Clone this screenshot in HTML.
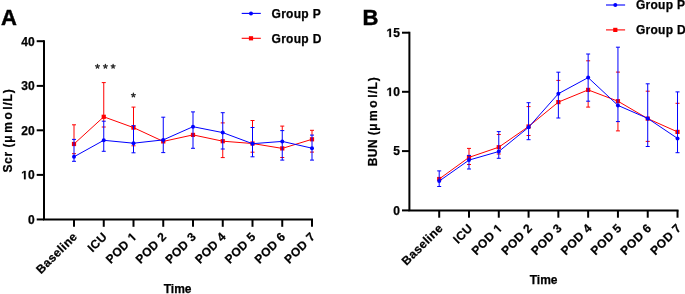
<!DOCTYPE html>
<html><head><meta charset="utf-8"><title>Chart</title>
<style>
html,body{margin:0;padding:0;background:#fff;width:685px;height:294px;overflow:hidden}
svg{display:block;will-change:transform}
</style></head>
<body>
<svg width="685" height="294" viewBox="0 0 685 294">
<style>
.t{font-family:"Liberation Sans", sans-serif;font-weight:bold;font-size:12px;fill:#000;stroke:#000;stroke-width:0.25px}
.L{font-family:"Liberation Sans", sans-serif;font-weight:bold;font-size:22px;fill:#000;stroke:#000;stroke-width:0.45px}
.sp{letter-spacing:2.6px}
.ls{letter-spacing:0.4px}
.ls2{letter-spacing:0.3px}
.ls8{letter-spacing:0.8px}
.ls6{letter-spacing:0.6px}
.ls5{letter-spacing:0.5px}
.h{fill:none;stroke:none}
</style>
<rect width="685" height="294" fill="#fff"/>
<path d="M44 41.2V219.45H312" fill="none" stroke="#000" stroke-width="2" stroke-linecap="square" stroke-linejoin="miter"/>
<line x1="36.7" y1="41.2" x2="44" y2="41.2" stroke="#000" stroke-width="2"/>
<text id="x0" x="34.6" y="45.5" text-anchor="end" class="t">40</text>
<line x1="36.7" y1="85.9" x2="44" y2="85.9" stroke="#000" stroke-width="2"/>
<text id="x1" x="34.6" y="90.2" text-anchor="end" class="t">30</text>
<line x1="36.7" y1="130.3" x2="44" y2="130.3" stroke="#000" stroke-width="2"/>
<text id="x2" x="34.6" y="134.6" text-anchor="end" class="t">20</text>
<line x1="36.7" y1="174.9" x2="44" y2="174.9" stroke="#000" stroke-width="2"/>
<text id="x3" x="34.6" y="179.2" text-anchor="end" class="t"><tspan class="h">1</tspan>0</text>
<path transform="translate(21.22 179.2) scale(0.005859 -0.005859)" d="M478 0L478 1170L140 959L140 1180L493 1409L759 1409L759 0Z" fill="#000" stroke="#000" stroke-width="42.67"/>
<line x1="36.7" y1="219.45" x2="44" y2="219.45" stroke="#000" stroke-width="2"/>
<text id="x4" x="34.6" y="223.75" text-anchor="end" class="t">0</text>
<line x1="74" y1="219.45" x2="74" y2="226.8" stroke="#000" stroke-width="2"/>
<line x1="103.75" y1="219.45" x2="103.75" y2="226.8" stroke="#000" stroke-width="2"/>
<line x1="133.5" y1="219.45" x2="133.5" y2="226.8" stroke="#000" stroke-width="2"/>
<line x1="163.25" y1="219.45" x2="163.25" y2="226.8" stroke="#000" stroke-width="2"/>
<line x1="193" y1="219.45" x2="193" y2="226.8" stroke="#000" stroke-width="2"/>
<line x1="222.75" y1="219.45" x2="222.75" y2="226.8" stroke="#000" stroke-width="2"/>
<line x1="252.5" y1="219.45" x2="252.5" y2="226.8" stroke="#000" stroke-width="2"/>
<line x1="282.25" y1="219.45" x2="282.25" y2="226.8" stroke="#000" stroke-width="2"/>
<line x1="312" y1="219.45" x2="312" y2="226.8" stroke="#000" stroke-width="2"/>
<text id="x5" transform="translate(78.1 237.35) rotate(-45)" text-anchor="end" class="t ls">Baseline</text>
<text id="x6" transform="translate(107.85 237.35) rotate(-45)" text-anchor="end" class="t ls">ICU</text>
<text id="x7" transform="translate(137.6 237.35) rotate(-45)" text-anchor="end" class="t ls">POD <tspan class="h">1</tspan></text>
<path transform="translate(137.6 237.35) rotate(-45) translate(-7.08 0) scale(0.005859 -0.005859)" d="M478 0L478 1170L140 959L140 1180L493 1409L759 1409L759 0Z" fill="#000" stroke="#000" stroke-width="42.67"/>
<text id="x8" transform="translate(167.35 237.35) rotate(-45)" text-anchor="end" class="t ls">POD 2</text>
<text id="x9" transform="translate(197.1 237.35) rotate(-45)" text-anchor="end" class="t ls">POD 3</text>
<text id="x10" transform="translate(226.85 237.35) rotate(-45)" text-anchor="end" class="t ls">POD 4</text>
<text id="x11" transform="translate(256.6 237.35) rotate(-45)" text-anchor="end" class="t ls">POD 5</text>
<text id="x12" transform="translate(286.35 237.35) rotate(-45)" text-anchor="end" class="t ls">POD 6</text>
<text id="x13" transform="translate(316.1 237.35) rotate(-45)" text-anchor="end" class="t ls">POD 7</text>
<text id="x14" x="177.6" y="292.8" text-anchor="middle" class="t">Time</text>
<text x="1" y="24.7" class="L">A</text>
<text id="x15" transform="translate(11.8 172.5) rotate(-90)" x="0" y="0" class="t ls"><tspan class="ls6">Scr (</tspan><tspan class="sp">μmo</tspan><tspan class="ls8">l/L)</tspan></text>
<path d="M74 124.8V139.4M72 124.8h4M72 153.7h4" stroke="#ff0000" stroke-width="1" fill="none"/>
<path d="M103.75 82.6V121.2M101.75 82.6h4M101.75 127h4" stroke="#ff0000" stroke-width="1" fill="none"/>
<path d="M133.5 107.1V125.7M131.5 107.1h4M131.5 145.8h4" stroke="#ff0000" stroke-width="1" fill="none"/>
<path d="" stroke="#ff0000" stroke-width="1" fill="none"/>
<path d="" stroke="#ff0000" stroke-width="1" fill="none"/>
<path d="M222.75 149V157.6M220.75 122.9h4M220.75 157.6h4" stroke="#ff0000" stroke-width="1" fill="none"/>
<path d="M252.5 120.5V127.5M250.5 120.5h4M250.5 152.2h4" stroke="#ff0000" stroke-width="1" fill="none"/>
<path d="M282.25 126.1V130.6M280.25 126.1h4M280.25 157.5h4" stroke="#ff0000" stroke-width="1" fill="none"/>
<path d="M312 130.3V135.1M310 130.3h4M310 152.1h4" stroke="#ff0000" stroke-width="1" fill="none"/>
<polyline points="74,144 103.75,116.8 133.5,127.6 163.25,141.4 193,134.9 222.75,141.2 252.5,143.5 282.25,148.4 312,139.3" fill="none" stroke="#ff0000" stroke-width="1" stroke-linejoin="round"/>
<rect x="71.9" y="141.9" width="4.2" height="4.2" fill="#ff0000"/>
<rect x="101.65" y="114.7" width="4.2" height="4.2" fill="#ff0000"/>
<rect x="131.4" y="125.5" width="4.2" height="4.2" fill="#ff0000"/>
<rect x="161.15" y="139.3" width="4.2" height="4.2" fill="#ff0000"/>
<rect x="190.9" y="132.8" width="4.2" height="4.2" fill="#ff0000"/>
<rect x="220.65" y="139.1" width="4.2" height="4.2" fill="#ff0000"/>
<rect x="250.4" y="141.4" width="4.2" height="4.2" fill="#ff0000"/>
<rect x="280.15" y="146.3" width="4.2" height="4.2" fill="#ff0000"/>
<rect x="309.9" y="137.2" width="4.2" height="4.2" fill="#ff0000"/>
<path d="M74 139.4V161.3M72 139.4h4M72 161.3h4" stroke="#0000ff" stroke-width="1" fill="none"/>
<path d="M103.75 121.2V151.3M101.75 121.2h4M101.75 151.3h4" stroke="#0000ff" stroke-width="1" fill="none"/>
<path d="M133.5 125.7V152.8M131.5 125.7h4M131.5 152.8h4" stroke="#0000ff" stroke-width="1" fill="none"/>
<path d="M163.25 117.2V152.6M161.25 117.2h4M161.25 152.6h4" stroke="#0000ff" stroke-width="1" fill="none"/>
<path d="M193 111.9V148.3M191 111.9h4M191 148.3h4" stroke="#0000ff" stroke-width="1" fill="none"/>
<path d="M222.75 112.7V149M220.75 112.7h4M220.75 149h4" stroke="#0000ff" stroke-width="1" fill="none"/>
<path d="M252.5 127.5V156.8M250.5 127.5h4M250.5 156.8h4" stroke="#0000ff" stroke-width="1" fill="none"/>
<path d="M282.25 130.6V160.1M280.25 130.6h4M280.25 160.1h4" stroke="#0000ff" stroke-width="1" fill="none"/>
<path d="M312 135.1V160.1M310 135.1h4M310 160.1h4" stroke="#0000ff" stroke-width="1" fill="none"/>
<polyline points="74,156.8 103.75,140.3 133.5,143.2 163.25,139.9 193,126.7 222.75,132.6 252.5,143.7 282.25,141.4 312,148.2" fill="none" stroke="#0000ff" stroke-width="1" stroke-linejoin="round"/>
<circle cx="74" cy="156.8" r="2" fill="#0000ff"/>
<circle cx="103.75" cy="140.3" r="2" fill="#0000ff"/>
<circle cx="133.5" cy="143.2" r="2" fill="#0000ff"/>
<circle cx="163.25" cy="139.9" r="2" fill="#0000ff"/>
<circle cx="193" cy="126.7" r="2" fill="#0000ff"/>
<circle cx="222.75" cy="132.6" r="2" fill="#0000ff"/>
<circle cx="252.5" cy="143.7" r="2" fill="#0000ff"/>
<circle cx="282.25" cy="141.4" r="2" fill="#0000ff"/>
<circle cx="312" cy="148.2" r="2" fill="#0000ff"/>
<line x1="241.7" y1="13.4" x2="260.8" y2="13.4" stroke="#0000ff" stroke-width="1.1"/>
<circle cx="251" cy="13.4" r="2" fill="#0000ff"/>
<text id="x16" x="271.5" y="17.7" class="t ls2">Group P</text>
<line x1="241.7" y1="38.3" x2="260.8" y2="38.3" stroke="#ff0000" stroke-width="1.1"/>
<rect x="248.9" y="36.2" width="4.2" height="4.2" fill="#ff0000"/>
<text id="x17" x="271.5" y="42.5" class="t ls2">Group D</text>
<path d="M409.4 32.7V210.4H677.52" fill="none" stroke="#000" stroke-width="2" stroke-linecap="square" stroke-linejoin="miter"/>
<line x1="402" y1="32.7" x2="409.4" y2="32.7" stroke="#000" stroke-width="2"/>
<text id="x18" x="399.9" y="37" text-anchor="end" class="t"><tspan class="h">1</tspan>5</text>
<path transform="translate(386.52 37) scale(0.005859 -0.005859)" d="M478 0L478 1170L140 959L140 1180L493 1409L759 1409L759 0Z" fill="#000" stroke="#000" stroke-width="42.67"/>
<line x1="402" y1="91.8" x2="409.4" y2="91.8" stroke="#000" stroke-width="2"/>
<text id="x19" x="399.9" y="96.1" text-anchor="end" class="t"><tspan class="h">1</tspan>0</text>
<path transform="translate(386.52 96.1) scale(0.005859 -0.005859)" d="M478 0L478 1170L140 959L140 1180L493 1409L759 1409L759 0Z" fill="#000" stroke="#000" stroke-width="42.67"/>
<line x1="402" y1="151.1" x2="409.4" y2="151.1" stroke="#000" stroke-width="2"/>
<text id="x20" x="399.9" y="155.4" text-anchor="end" class="t">5</text>
<line x1="402" y1="210.4" x2="409.4" y2="210.4" stroke="#000" stroke-width="2"/>
<text id="x21" x="399.9" y="214.7" text-anchor="end" class="t">0</text>
<line x1="439.2" y1="210.4" x2="439.2" y2="217.7" stroke="#000" stroke-width="2"/>
<line x1="468.99" y1="210.4" x2="468.99" y2="217.7" stroke="#000" stroke-width="2"/>
<line x1="498.78" y1="210.4" x2="498.78" y2="217.7" stroke="#000" stroke-width="2"/>
<line x1="528.57" y1="210.4" x2="528.57" y2="217.7" stroke="#000" stroke-width="2"/>
<line x1="558.36" y1="210.4" x2="558.36" y2="217.7" stroke="#000" stroke-width="2"/>
<line x1="588.15" y1="210.4" x2="588.15" y2="217.7" stroke="#000" stroke-width="2"/>
<line x1="617.94" y1="210.4" x2="617.94" y2="217.7" stroke="#000" stroke-width="2"/>
<line x1="647.73" y1="210.4" x2="647.73" y2="217.7" stroke="#000" stroke-width="2"/>
<line x1="677.52" y1="210.4" x2="677.52" y2="217.7" stroke="#000" stroke-width="2"/>
<text id="x22" transform="translate(443.7 228.8) rotate(-45)" text-anchor="end" class="t ls">Baseline</text>
<text id="x23" transform="translate(473.49 228.8) rotate(-45)" text-anchor="end" class="t ls">ICU</text>
<text id="x24" transform="translate(503.28 228.8) rotate(-45)" text-anchor="end" class="t ls">POD <tspan class="h">1</tspan></text>
<path transform="translate(503.28 228.8) rotate(-45) translate(-7.08 0) scale(0.005859 -0.005859)" d="M478 0L478 1170L140 959L140 1180L493 1409L759 1409L759 0Z" fill="#000" stroke="#000" stroke-width="42.67"/>
<text id="x25" transform="translate(533.07 228.8) rotate(-45)" text-anchor="end" class="t ls">POD 2</text>
<text id="x26" transform="translate(562.86 228.8) rotate(-45)" text-anchor="end" class="t ls">POD 3</text>
<text id="x27" transform="translate(592.65 228.8) rotate(-45)" text-anchor="end" class="t ls">POD 4</text>
<text id="x28" transform="translate(622.44 228.8) rotate(-45)" text-anchor="end" class="t ls">POD 5</text>
<text id="x29" transform="translate(652.23 228.8) rotate(-45)" text-anchor="end" class="t ls">POD 6</text>
<text id="x30" transform="translate(682.02 228.8) rotate(-45)" text-anchor="end" class="t ls">POD 7</text>
<text id="x31" x="543.6" y="284.4" text-anchor="middle" class="t">Time</text>
<text x="362.6" y="25.2" class="L">B</text>
<text id="x32" transform="translate(376.8 166.2) rotate(-90)" x="0" y="0" class="t ls"><tspan class="ls">BUN (</tspan><tspan class="sp">μmo</tspan><tspan class="ls8">l/L)</tspan></text>
<path d="" stroke="#ff0000" stroke-width="1" fill="none"/>
<path d="M468.99 148.4V155.4M466.99 148.4h4M466.99 164.5h4" stroke="#ff0000" stroke-width="1" fill="none"/>
<path d="M496.78 134.5h4M496.78 154h4" stroke="#ff0000" stroke-width="1" fill="none"/>
<path d="M526.57 106.6h4M526.57 135.5h4" stroke="#ff0000" stroke-width="1" fill="none"/>
<path d="M556.36 80.4h4" stroke="#ff0000" stroke-width="1" fill="none"/>
<path d="M588.15 101.2V107.1M586.15 60.8h4M586.15 107.1h4" stroke="#ff0000" stroke-width="1" fill="none"/>
<path d="M617.94 121.6V130.9M615.94 72.1h4M615.94 130.9h4" stroke="#ff0000" stroke-width="1" fill="none"/>
<path d="M645.73 91.2h4M645.73 141.4h4" stroke="#ff0000" stroke-width="1" fill="none"/>
<path d="M675.52 103.3h4" stroke="#ff0000" stroke-width="1" fill="none"/>
<polyline points="439.2,179 468.99,157.4 498.78,147.2 528.57,126.5 558.36,102.1 588.15,89.9 617.94,101.2 647.73,118.6 677.52,131.9" fill="none" stroke="#ff0000" stroke-width="1" stroke-linejoin="round"/>
<rect x="437.1" y="176.9" width="4.2" height="4.2" fill="#ff0000"/>
<rect x="466.89" y="155.3" width="4.2" height="4.2" fill="#ff0000"/>
<rect x="496.68" y="145.1" width="4.2" height="4.2" fill="#ff0000"/>
<rect x="526.47" y="124.4" width="4.2" height="4.2" fill="#ff0000"/>
<rect x="556.26" y="100" width="4.2" height="4.2" fill="#ff0000"/>
<rect x="586.05" y="87.8" width="4.2" height="4.2" fill="#ff0000"/>
<rect x="615.84" y="99.1" width="4.2" height="4.2" fill="#ff0000"/>
<rect x="645.63" y="116.5" width="4.2" height="4.2" fill="#ff0000"/>
<rect x="675.42" y="129.8" width="4.2" height="4.2" fill="#ff0000"/>
<path d="M439.2 170.9V186.5M437.2 170.9h4M437.2 186.5h4" stroke="#0000ff" stroke-width="1" fill="none"/>
<path d="M468.99 155.4V169M466.99 155.4h4M466.99 169h4" stroke="#0000ff" stroke-width="1" fill="none"/>
<path d="M498.78 131.6V158.3M496.78 131.6h4M496.78 158.3h4" stroke="#0000ff" stroke-width="1" fill="none"/>
<path d="M528.57 102.7V139.7M526.57 102.7h4M526.57 139.7h4" stroke="#0000ff" stroke-width="1" fill="none"/>
<path d="M558.36 72.2V118M556.36 72.2h4M556.36 118h4" stroke="#0000ff" stroke-width="1" fill="none"/>
<path d="M588.15 54V101.2M586.15 54h4M586.15 101.2h4" stroke="#0000ff" stroke-width="1" fill="none"/>
<path d="M617.94 47.2V121.6M615.94 47.2h4M615.94 121.6h4" stroke="#0000ff" stroke-width="1" fill="none"/>
<path d="M647.73 83.8V146.5M645.73 83.8h4M645.73 146.5h4" stroke="#0000ff" stroke-width="1" fill="none"/>
<path d="M677.52 91.9V152.7M675.52 91.9h4M675.52 152.7h4" stroke="#0000ff" stroke-width="1" fill="none"/>
<polyline points="439.2,181.1 468.99,160.1 498.78,151.5 528.57,127.3 558.36,93.7 588.15,77.6 617.94,105.4 647.73,118.4 677.52,138.4" fill="none" stroke="#0000ff" stroke-width="1" stroke-linejoin="round"/>
<circle cx="439.2" cy="181.1" r="2" fill="#0000ff"/>
<circle cx="468.99" cy="160.1" r="2" fill="#0000ff"/>
<circle cx="498.78" cy="151.5" r="2" fill="#0000ff"/>
<circle cx="528.57" cy="127.3" r="2" fill="#0000ff"/>
<circle cx="558.36" cy="93.7" r="2" fill="#0000ff"/>
<circle cx="588.15" cy="77.6" r="2" fill="#0000ff"/>
<circle cx="617.94" cy="105.4" r="2" fill="#0000ff"/>
<circle cx="647.73" cy="118.4" r="2" fill="#0000ff"/>
<circle cx="677.52" cy="138.4" r="2" fill="#0000ff"/>
<line x1="606" y1="5" x2="625.1" y2="5" stroke="#0000ff" stroke-width="1.1"/>
<circle cx="615.3" cy="5" r="2" fill="#0000ff"/>
<text id="x33" x="635.9" y="9.3" class="t ls2">Group P</text>
<line x1="606" y1="29.9" x2="625.1" y2="29.9" stroke="#ff0000" stroke-width="1.1"/>
<rect x="613.2" y="27.8" width="4.2" height="4.2" fill="#ff0000"/>
<text id="x34" x="635.9" y="34.4" class="t ls2">Group D</text>
<path d="M97.5 66.4L97.5 64.4M97.5 66.4L99.4 65.78M97.5 66.4L98.68 68.02M97.5 66.4L96.32 68.02M97.5 66.4L95.6 65.78" stroke="#2a2a2a" stroke-width="1.3" stroke-linecap="round" fill="none"/>
<path d="M105.4 66.4L105.4 64.4M105.4 66.4L107.3 65.78M105.4 66.4L106.58 68.02M105.4 66.4L104.22 68.02M105.4 66.4L103.5 65.78" stroke="#2a2a2a" stroke-width="1.3" stroke-linecap="round" fill="none"/>
<path d="M113.1 66.4L113.1 64.4M113.1 66.4L115 65.78M113.1 66.4L114.28 68.02M113.1 66.4L111.92 68.02M113.1 66.4L111.2 65.78" stroke="#2a2a2a" stroke-width="1.3" stroke-linecap="round" fill="none"/>
<path d="M133.4 95.2L133.4 93.2M133.4 95.2L135.3 94.58M133.4 95.2L134.58 96.82M133.4 95.2L132.22 96.82M133.4 95.2L131.5 94.58" stroke="#2a2a2a" stroke-width="1.3" stroke-linecap="round" fill="none"/>
</svg>
</body></html>
